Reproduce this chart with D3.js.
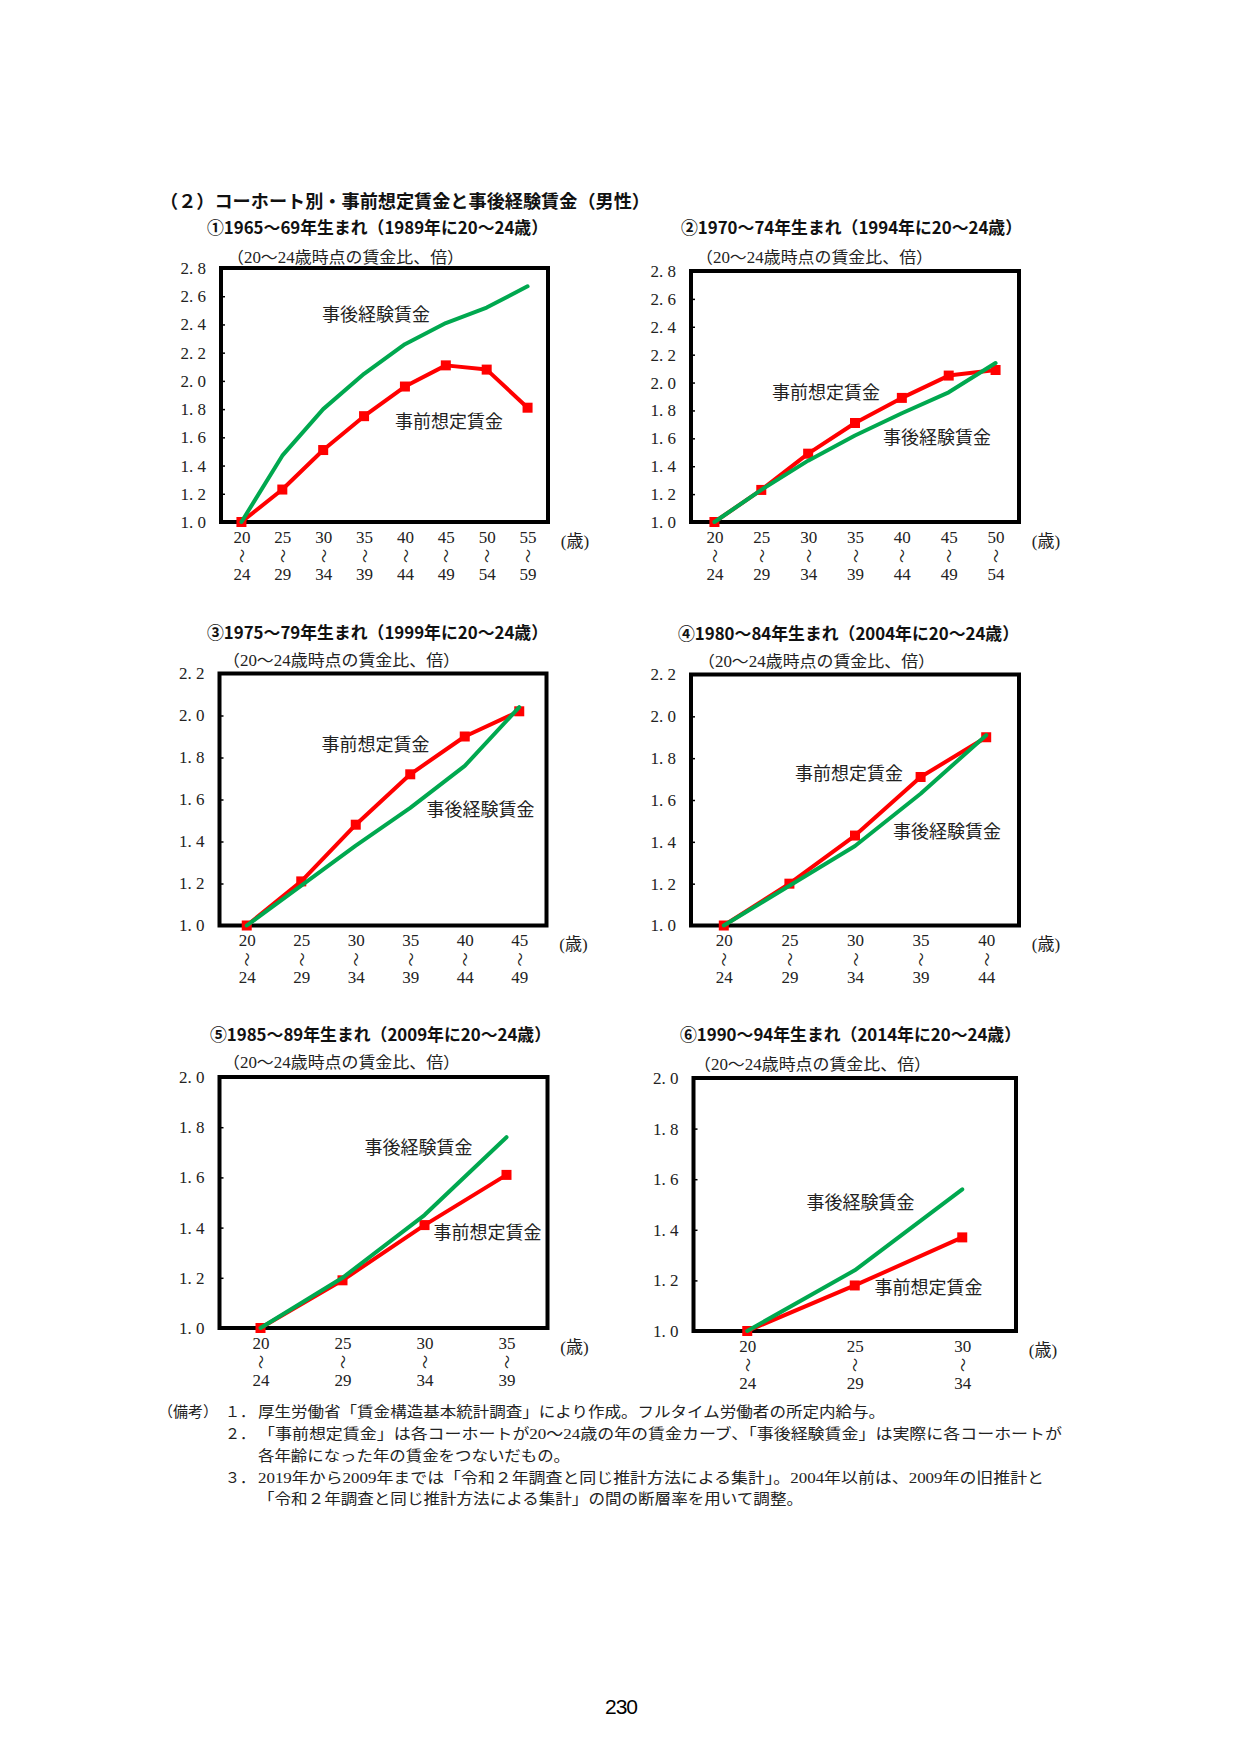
<!DOCTYPE html>
<html lang="ja">
<head>
<meta charset="utf-8">
<title>コーホート別・事前想定賃金と事後経験賃金</title>
<script src="https://d3js.org/d3.v7.min.js"></script>
<style>
  body { margin: 0; background: #fff; }
</style>
</head>
<body>
<script>

// ---- data ----
var heading = "（２）コーホート別・事前想定賃金と事後経験賃金（男性）";
var titles = [
  "①1965〜69年生まれ（1989年に20〜24歳）",
  "②1970〜74年生まれ（1994年に20〜24歳）",
  "③1975〜79年生まれ（1999年に20〜24歳）",
  "④1980〜84年生まれ（2004年に20〜24歳）",
  "⑤1985〜89年生まれ（2009年に20〜24歳）",
  "⑥1990〜94年生まれ（2014年に20〜24歳）"
];
var yCaption = "（20〜24歳時点の賃金比、倍）";
var xUnit = "(歳)";
var ageFrom = [20, 25, 30, 35, 40, 45, 50, 55];
var ageTo   = [24, 29, 34, 39, 44, 49, 54, 59];
var yTop = [2.8, 2.8, 2.2, 2.2, 2.0, 2.0];
var anteName = "事前想定賃金";
var postName = "事後経験賃金";

// 事前想定賃金
var exAnte = [
  [1.00, 1.23, 1.51, 1.75, 1.96, 2.11, 2.08, 1.81],
  [1.00, 1.23, 1.49, 1.71, 1.89, 2.05, 2.09],
  [1.00, 1.21, 1.48, 1.72, 1.90, 2.02],
  [1.00, 1.20, 1.43, 1.71, 1.90],
  [1.00, 1.19, 1.41, 1.61],
  [1.00, 1.18, 1.37]
];
// 事後経験賃金
var exPost = [
  [1.00, 1.47, 1.80, 2.05, 2.26, 2.41, 2.52, 2.67],
  [1.00, 1.23, 1.44, 1.62, 1.78, 1.93, 2.14],
  [1.00, 1.19, 1.38, 1.56, 1.76, 2.04],
  [1.00, 1.19, 1.38, 1.63, 1.91],
  [1.00, 1.20, 1.45, 1.76],
  [1.00, 1.24, 1.56]
];

var noteLabel = "（備考）";
var notes = [
  {num: "１．", text: "厚生労働省「賃金構造基本統計調査」により作成。フルタイム労働者の所定内給与。", len: 627},
  {num: "２．", text: "「事前想定賃金」は各コーホートが20〜24歳の年の賃金カーブ、「事後経験賃金」は実際に各コーホートが", len: 804},
  {num: "",    text: "各年齢になった年の賃金をつないだもの。", len: 312},
  {num: "３．", text: "2019年から2009年までは「令和２年調査と同じ推計方法による集計」。2004年以前は、2009年の旧推計と", len: 786},
  {num: "",    text: "「令和２年調査と同じ推計方法による集計」の間の断層率を用いて調整。", len: 545}
];
var pageNo = "230";

// ---- layout ----
var W = 1241, H = 1755;
var red = "#ff0000", green = "#00a84f";
var gothic = "'Noto Sans CJK JP', sans-serif";
var mincho = "'Liberation Serif', 'Noto Sans CJK JP', serif";

var layout = [
  {x: 221,   y: 268,    w: 327,   h: 254, tx: 207, ty: 228,  cx: 227, cy: 257,  ante: [174, 154], post: [101, 47]},
  {x: 691,   y: 271,    w: 328,   h: 251, tx: 681, ty: 228,  cx: 696, cy: 257,  ante: [81, 122],  post: [192, 167]},
  {x: 219.5, y: 673.5,  w: 327,   h: 252, tx: 207, ty: 633,  cx: 223, cy: 660,  ante: [102, 71],  post: [207, 136]},
  {x: 691,   y: 674.5,  w: 328,   h: 251, tx: 678, ty: 634,  cx: 698, cy: 661,  ante: [104, 99],  post: [202, 157]},
  {x: 219.5, y: 1077,   w: 328,   h: 251, tx: 210, ty: 1035, cx: 223, cy: 1062, ante: [214, 156], post: [145, 71]},
  {x: 693.5, y: 1078,   w: 322.5, h: 253, tx: 680, ty: 1035, cx: 694, cy: 1064, ante: [181, 210], post: [113, 125]}
];

var svg = d3.select("body")
  .append("svg")
    .attr("width", W)
    .attr("height", H);

svg.append("rect")
    .attr("width", W)
    .attr("height", H)
    .attr("fill", "#fff");

svg.append("text")
    .attr("x", 160)
    .attr("y", 202)
    .attr("dy", "0.35em")
    .attr("font-family", gothic)
    .attr("font-weight", "bold")
    .attr("font-size", 18)
    .attr("fill", "#111")
    .attr("textLength", 490)
    .attr("lengthAdjust", "spacingAndGlyphs")
    .text(heading);

// ---- one panel per cohort ----
layout.forEach(function (L, k) {

  var n = exAnte[k].length;
  var x = d3.scalePoint()
      .domain(d3.range(n))
      .range([0, L.w])
      .padding(0.5);
  var steps = Math.round((yTop[k] - 1) / 0.2);
  var ticks = d3.range(steps + 1).map(i => 1 + i * 0.2);
  var y = d3.scaleLinear()
      .domain([1, yTop[k]])
      .range([L.h, 0]);

  svg.append("text")
      .attr("x", L.tx)
      .attr("y", L.ty)
      .attr("dy", "0.35em")
      .attr("font-family", gothic)
      .attr("font-weight", "bold")
      .attr("font-size", 17)
      .attr("fill", "#111")
      .attr("textLength", 341)
      .attr("lengthAdjust", "spacingAndGlyphs")
      .text(titles[k]);

  svg.append("text")
      .attr("x", L.cx)
      .attr("y", L.cy)
      .attr("dy", "0.35em")
      .attr("font-family", mincho)
      .attr("font-size", 16)
      .attr("fill", "#222")
      .attr("textLength", 237)
      .attr("lengthAdjust", "spacingAndGlyphs")
      .text(yCaption);

  var g = svg.append("g")
      .attr("transform", `translate(${L.x},${L.y})`);

  // y axis (ticks point inward)
  var yAxis = d3.axisLeft(y)
      .tickValues(ticks)
      .tickSizeInner(-4)
      .tickSizeOuter(0)
      .tickPadding(15)
      .tickFormat(d => d.toFixed(1).replace(".", ". "));

  g.append("g")
      .attr("class", "yAxis")
      .call(yAxis)
      .attr("font-family", mincho)
      .attr("font-size", 17)
      .call(a => a.select(".domain").remove())
      .call(a => a.selectAll("line").attr("stroke", "#000").attr("stroke-width", 1.5))
      .call(a => a.selectAll("text").attr("fill", "#222"));

  // x axis: "20 / 〜 / 24"
  var xAxis = d3.axisBottom(x)
      .tickSize(0)
      .tickPadding(0)
      .tickFormat(i => ageFrom[i]);

  var xa = g.append("g")
      .attr("class", "xAxis")
      .attr("transform", `translate(0,${L.h})`)
      .call(xAxis)
      .attr("font-family", mincho)
      .attr("font-size", 17)
      .call(a => a.select(".domain").remove());

  xa.selectAll(".tick text")
      .attr("y", 15)
      .attr("dy", "0.35em")
      .attr("fill", "#222");

  xa.selectAll(".tick").append("text")
      .attr("transform", "translate(0,34) rotate(90)")
      .attr("text-anchor", "middle")
      .attr("dy", "0.35em")
      .attr("font-family", gothic)
      .attr("font-size", 14)
      .attr("fill", "#222")
      .text("〜");

  xa.selectAll(".tick").append("text")
      .attr("y", 52)
      .attr("dy", "0.35em")
      .attr("text-anchor", "middle")
      .attr("fill", "#222")
      .text(i => ageTo[i]);

  g.append("text")
      .attr("x", L.w + 27)
      .attr("y", L.h + 19)
      .attr("dy", "0.35em")
      .attr("text-anchor", "middle")
      .attr("font-family", mincho)
      .attr("font-size", 17)
      .attr("fill", "#222")
      .text(xUnit);

  // frame
  g.append("rect")
      .attr("width", L.w)
      .attr("height", L.h)
      .attr("fill", "none")
      .attr("stroke", "#000")
      .attr("stroke-width", 4);

  var line = d3.line()
      .x((d, i) => x(i))
      .y(d => y(d));

  g.append("path")
      .datum(exAnte[k])
      .attr("d", line)
      .attr("fill", "none")
      .attr("stroke", red)
      .attr("stroke-width", 4)
      .attr("stroke-linejoin", "round");

  g.selectAll(".mark")
    .data(exAnte[k])
    .enter().append("rect")
      .attr("class", "mark")
      .attr("x", (d, i) => x(i) - 5)
      .attr("y", d => y(d) - 5)
      .attr("width", 10)
      .attr("height", 10)
      .attr("fill", red);

  g.append("path")
      .datum(exPost[k])
      .attr("d", line)
      .attr("fill", "none")
      .attr("stroke", green)
      .attr("stroke-width", 4)
      .attr("stroke-linejoin", "round")
      .attr("stroke-linecap", "round");

  g.append("text")
      .attr("x", L.ante[0])
      .attr("y", L.ante[1])
      .attr("dy", "0.35em")
      .attr("font-family", mincho)
      .attr("font-size", 18)
      .attr("fill", "#222")
      .text(anteName);

  g.append("text")
      .attr("x", L.post[0])
      .attr("y", L.post[1])
      .attr("dy", "0.35em")
      .attr("font-family", mincho)
      .attr("font-size", 18)
      .attr("fill", "#222")
      .text(postName);
});

// ---- notes ----
var nt = svg.append("g")
    .attr("font-family", mincho)
    .attr("font-size", 15)
    .attr("fill", "#222");

nt.append("text")
    .attr("x", 158)
    .attr("y", 1412)
    .attr("dy", "0.35em")
    .text(noteLabel);

notes.forEach(function (d, i) {
  var yy = 1412 + i * 21.8;
  if (d.num) {
    nt.append("text")
        .attr("x", 225)
        .attr("y", yy)
        .attr("dy", "0.35em")
        .text(d.num);
  }
  nt.append("text")
      .attr("x", 258)
      .attr("y", yy)
      .attr("dy", "0.35em")
      .attr("textLength", d.len)
      .attr("lengthAdjust", "spacingAndGlyphs")
      .text(d.text);
});

svg.append("text")
    .attr("x", 621)
    .attr("y", 1707)
    .attr("dy", "0.35em")
    .attr("text-anchor", "middle")
    .attr("font-family", "'Liberation Sans', sans-serif")
    .attr("font-size", 21)
    .attr("letter-spacing", -1)
    .attr("fill", "#000")
    .text(pageNo);

</script>
</body>
</html>
